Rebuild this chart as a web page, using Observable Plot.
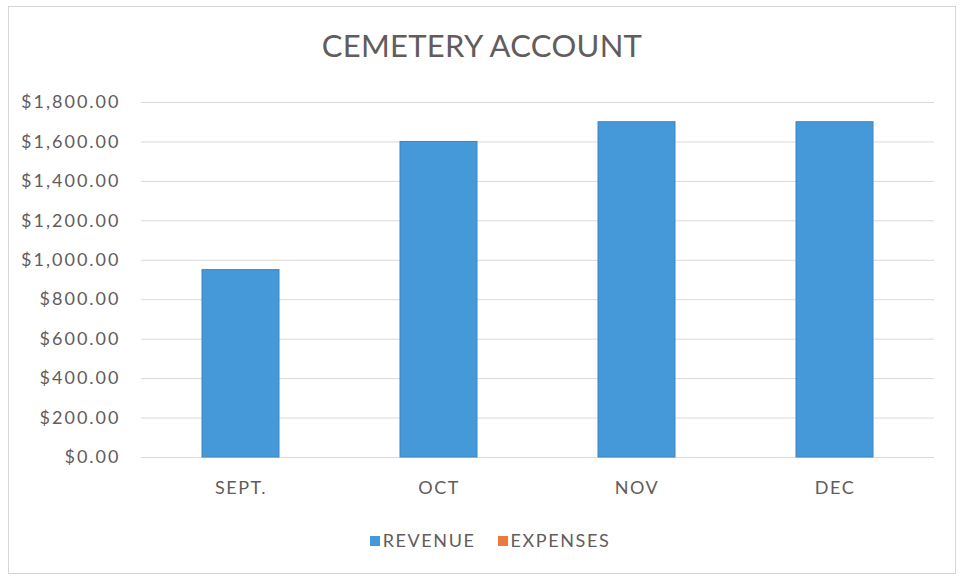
<!DOCTYPE html>
<html>
<head>
<meta charset="utf-8">
<script src="https://cdn.jsdelivr.net/npm/d3@7"></script>
<script src="https://cdn.jsdelivr.net/npm/@observablehq/plot@0.6"></script>
<style>
  html, body { margin: 0; padding: 0; background: #fff; }
  #wrap { position: relative; width: 964px; height: 580px; overflow: hidden; font-family: Lato, "Open Sans", sans-serif; color: #625c5c; }
  #frame { position: absolute; left: 8px; top: 6px; width: 946px; height: 566px; border: 1px solid #d6d6d6; }
  #title { position: absolute; left: 0; width: 964px; top: 26px; text-align: center; font-size: 31px; color: #625c5c; letter-spacing: 0.3px; }
  #chart { position: absolute; left: 0; top: 85px; }
  #legend { position: absolute; left: 8px; width: 964px; top: 529px; text-align: center; font-size: 18px; letter-spacing: 1.6px; color: #625c5c; }
  .item { display: inline-block; margin: 0 11px; }
  .sw { display: inline-block; width: 10px; height: 10px; margin-right: 3px; vertical-align: 1px; }
  #chart svg g[aria-label="y-axis tick label"] text { letter-spacing: 2px; }
  #chart svg g[aria-label="x-axis tick label"] text { letter-spacing: 1.5px; }
</style>
</head>
<body>
<div id="wrap">
  <div id="frame"></div>
  <div id="title"></div>
  <div id="chart"></div>
  <div id="legend"></div>
</div>
<script>
const titleText = "CEMETERY ACCOUNT";
const months = ["SEPT.", "OCT", "NOV", "DEC"];
const revenue = [950, 1600, 1700, 1700];
const expenses = [0, 0, 0, 0];
const seriesNames = ["REVENUE", "EXPENSES"];
const seriesColors = ["#4599d8", "#ec7a3d"];
const yTicks = [0, 200, 400, 600, 800, 1000, 1200, 1400, 1600, 1800];

const revData = months.map((m, i) => ({month: m, value: revenue[i], series: seriesNames[0]}));
const expData = months.map((m, i) => ({month: m, value: expenses[i], series: seriesNames[1]}));

const fmt = v => "$" + d3.format(",.2f")(v);

document.getElementById("title").textContent = titleText;

const plot = Plot.plot({
  width: 964,
  height: 430,
  marginTop: 17,
  marginBottom: 58,
  marginLeft: 141,
  marginRight: 30,
  style: { fontFamily: "Lato, 'Open Sans', sans-serif", fontSize: "18px", color: "#625c5c", background: "transparent" },
  x: { domain: months, paddingInner: 0.61, paddingOuter: 0.305, label: null },
  y: { domain: [0, 1800], ticks: yTicks, label: null },
  color: { domain: seriesNames, range: seriesColors },
  marks: [
    Plot.gridY(yTicks, { stroke: "#d9d9d9", strokeOpacity: 1 }),
    Plot.barY(revData, { x: "month", y: "value", fill: "series", stroke: "#3a86c0", strokeWidth: 1 }),
    Plot.barY(expData, { x: "month", y: "value", fill: "series" }),
    Plot.axisY(yTicks, { tickSize: 0, tickPadding: 21, tickFormat: fmt, fill: "#625c5c" }),
    Plot.axisX({ tickSize: 0, tickPadding: 24, fill: "#625c5c" })
  ]
});
document.getElementById("chart").appendChild(plot);

const legend = document.getElementById("legend");
seriesNames.forEach((name, i) => {
  const item = document.createElement("span");
  item.className = "item";
  const sw = document.createElement("span");
  sw.className = "sw";
  sw.style.background = seriesColors[i];
  item.appendChild(sw);
  item.appendChild(document.createTextNode(name));
  legend.appendChild(item);
});
</script>
</body>
</html>
